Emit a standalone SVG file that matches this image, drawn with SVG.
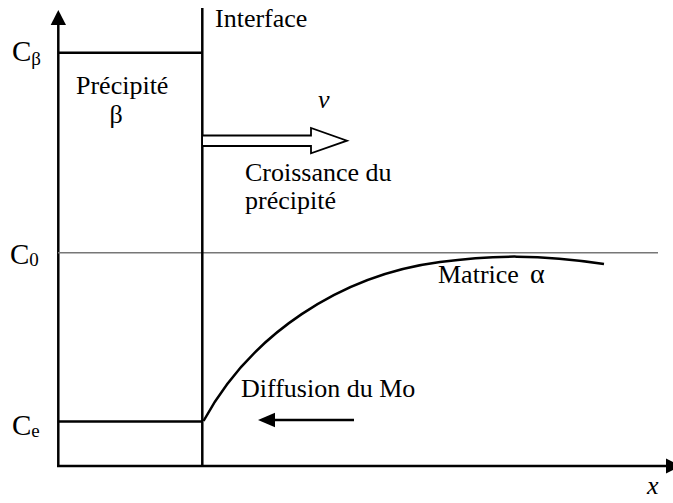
<svg xmlns="http://www.w3.org/2000/svg" width="673" height="503" viewBox="0 0 673 503">
<style>
text{font-family:'Liberation Serif','Times New Roman',serif;fill:#000}
.t{font-size:26px}
.c{font-size:29px}
.s{font-size:19px}
.i{font-style:italic}
.ln{stroke:#000;stroke-width:2.5;fill:none}
</style>
<rect width="673" height="503" fill="#fff"/>
<g id="axes">
<line class="ln" x1="58.3" y1="467" x2="58.3" y2="24"/>
<polygon points="58.3,10 50.7,25 66,25" fill="#000"/>
<line class="ln" x1="57" y1="466" x2="667" y2="466"/>
<polygon points="681,466 666,458.5 666,473.5" fill="#000"/>
<text class="t i" x="647" y="494">x</text>
</g>
<g id="levels">
<line x1="58" y1="252.7" x2="658" y2="252.7" stroke="#777" stroke-width="1.4"/>
<line class="ln" x1="58" y1="52.7" x2="203" y2="52.7"/>
<line class="ln" x1="58" y1="421.5" x2="203" y2="421.5"/>
<text class="c" x="12" y="61">C<tspan class="s" dy="4">β</tspan></text>
<text class="c" x="10" y="263.5">C<tspan class="s" dy="2">0</tspan></text>
<text class="c" x="12" y="435">C<tspan class="s" dy="2">e</tspan></text>
</g>
<g id="interface">
<line class="ln" x1="202.3" y1="8" x2="202.3" y2="467"/>
<text class="t" x="215" y="26.5">Interface</text>
</g>
<g id="precipite">
<text class="t" x="76" y="94">Précipité</text>
<text class="t" x="116" y="123" text-anchor="middle">β</text>
</g>
<g id="croissance">
<path d="M203,135.5 H311 V128 L347,140.7 L311,153.3 V146 H203" fill="#fff" stroke="#000" stroke-width="1.8"/>
<text class="t i" x="318" y="108">v</text>
<text class="t" x="245" y="181">Croissance du</text>
<text class="t" x="245" y="209">précipité</text>
</g>
<g id="matrice">
<path class="ln" d="M203.5,421 C250,335 340,275 440,262 C490,255 540,254 604,264"/>
<text class="t" x="438" y="283">Matrice<tspan x="530" font-size="28">α</tspan></text>
</g>
<g id="diffusion">
<text class="t" x="241" y="396.5">Diffusion du Mo</text>
<line class="ln" x1="354" y1="420" x2="272" y2="420"/>
<polygon points="258,420 275,412.7 275,427.3" fill="#000"/>
</g>
</svg>
